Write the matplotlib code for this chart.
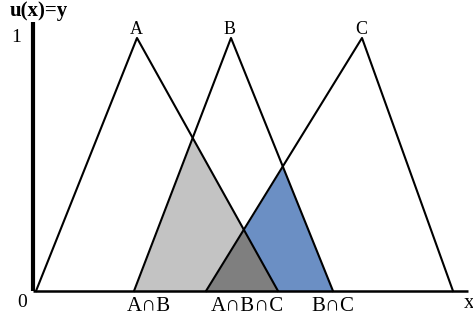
import numpy as np
import matplotlib.pyplot as plt

# triangular membership functions: (left, peak, right) along the x axis
tri_a = [0.3, 10.4, 24.5]
tri_b = [10.1, 19.8, 30.0]
tri_c = [17.3, 32.9, 42.0]
tri_names = ["A", "B", "C"]
region_labels = ["A\u2229B", "A\u2229B\u2229C", "B\u2229C"]
region_pos = [11.6, 21.4, 30.0]

def mu(x, t):
    return np.interp(x, t, [0, 1, 0])

plt.rcParams['font.family'] = ['Liberation Serif', 'DejaVu Serif']

fig = plt.figure(figsize=(4.73, 3.24), dpi=100)
ax = fig.add_axes([0, 0, 1, 1])
ax.set_xlim(-3.3, 44.0)
ax.set_ylim(-0.1304, 1.150)

x = np.linspace(0, 43, 4001)
ya, yb, yc = mu(x, tri_a), mu(x, tri_b), mu(x, tri_c)
ax.fill_between(x, 0, np.minimum(ya, yb), color="#c3c3c3", lw=0)
ax.fill_between(x, 0, np.minimum(yb, yc), color="#6b8fc4", lw=0)
ax.fill_between(x, 0, np.minimum(np.minimum(ya, yb), yc), color="#7f7f7f", lw=0)

for t, name in zip([tri_a, tri_b, tri_c], tri_names):
    ax.plot(t, [0, 1, 0], color="black", lw=1.5)
    ax.text(t[1] - 0.1, 1.033, name, ha="center", va="center", fontsize=13)

# axes lines
ax.plot([0, 0], [0, 1.063], color="black", lw=3, solid_capstyle="butt")
ax.plot([0, 43.5], [0, 0], color="black", lw=1.8, solid_capstyle="butt")

for lab, px in zip(region_labels, region_pos):
    ax.text(px, -0.062, lab, ha="center", va="center", fontsize=15)

ax.text(-1.1, -0.047, "0", ha="center", va="center", fontsize=14)
ax.text(-1.7, 1.0, "1", ha="center", va="center", fontsize=14)
ax.text(43.6, -0.05, "x", ha="center", va="center", fontsize=15)
ax.text(0.6, 1.107, "u(x)=y", ha="center", va="center", fontsize=15, fontweight="bold")

ax.axis("off")
fig.savefig("out.png", dpi=100)
